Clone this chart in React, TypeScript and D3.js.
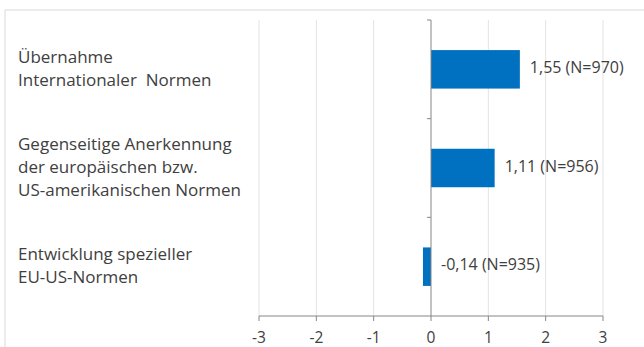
import React from "react";
import * as d3 from "d3";

const categories: string[][] = [
  ["Übernahme", "Internationaler  Normen"],
  ["Gegenseitige Anerkennung", "der europäischen bzw.", "US-amerikanischen Normen"],
  ["Entwicklung spezieller", "EU-US-Normen"],
];
const values: number[] = [1.55, 1.11, -0.14];
const counts: number[] = [970, 956, 935];
const ticks: number[] = [-3, -2, -1, 0, 1, 2, 3];

const W = 644;
const H = 347;
const FONT = "'Open Sans', sans-serif";
const TEXT = "#404040";

const fmt = (v: number) => v.toFixed(2).replace(".", ",");

export default function App() {
  const x = d3.scaleLinear().domain([-3, 3]).range([259, 603]);
  const idx = categories.map((_, i) => String(i));
  const y = d3.scaleBand<string>().domain(idx).range([20, 316]).paddingInner(0.61).paddingOuter(0.305);
  const step = y.step();
  const x0 = x(0);
  const lineH = 23;

  return (
    <svg width={W} height={H} style={{ position: "absolute", left: 0, top: 0 }} fontFamily={FONT}>
      <rect x={0} y={0} width={W} height={H} fill="#fff" />
      {/* chart frame */}
      <line x1={5} x2={W} y1={10} y2={10} stroke="#d9d9d9" strokeWidth={1} />
      <line x1={5} x2={5} y1={10} y2={H} stroke="#d9d9d9" strokeWidth={1} />

      {/* vertical gridlines */}
      {ticks.filter((t) => t !== 0).map((t) => (
        <line key={"g" + t} x1={x(t)} x2={x(t)} y1={20} y2={316} stroke="#e3e3e3" strokeWidth={1} />
      ))}

      {/* bars */}
      {values.map((v, i) => (
        <rect
          key={"b" + i}
          x={Math.min(x(v), x0)}
          width={Math.abs(x(v) - x0)}
          y={y(String(i))!}
          height={y.bandwidth()}
          fill="#0070c0"
        />
      ))}

      {/* value axis at zero with category ticks */}
      <line x1={x0} x2={x0} y1={20} y2={316} stroke="#868686" strokeWidth={1} />
      {d3.range(categories.length).map((i) => (
        <line key={"ct" + i} x1={x0 - 4} x2={x0} y1={20 + i * step} y2={20 + i * step} stroke="#868686" />
      ))}

      {/* bottom axis */}
      <line x1={x(-3)} x2={x(3)} y1={316} y2={316} stroke="#868686" strokeWidth={1} />
      {ticks.map((t) => (
        <g key={"t" + t}>
          <line x1={x(t)} x2={x(t)} y1={316} y2={321} stroke="#868686" />
          <text x={x(t)} y={343} textAnchor="middle" fontSize={15.5} fill={TEXT}>
            {t}
          </text>
        </g>
      ))}

      {/* category labels */}
      {categories.map((lines, i) => {
        const c = y(String(i))! + y.bandwidth() / 2;
        return (
          <text key={"c" + i} fontSize={17} fill={TEXT} style={{ whiteSpace: "pre" }}>
            {lines.map((l, j) => (
              <tspan key={j} x={18} y={c + (j - (lines.length - 1) / 2) * lineH + 5}>
                {l}
              </tspan>
            ))}
          </text>
        );
      })}

      {/* value labels */}
      {values.map((v, i) => (
        <text
          key={"v" + i}
          x={x(Math.max(v, 0)) + 10}
          y={y(String(i))! + y.bandwidth() / 2 + 3.5}
          fontSize={16}
          fill={TEXT}
        >
          {`${fmt(v)} (N=${counts[i]})`}
        </text>
      ))}
    </svg>
  );
}
